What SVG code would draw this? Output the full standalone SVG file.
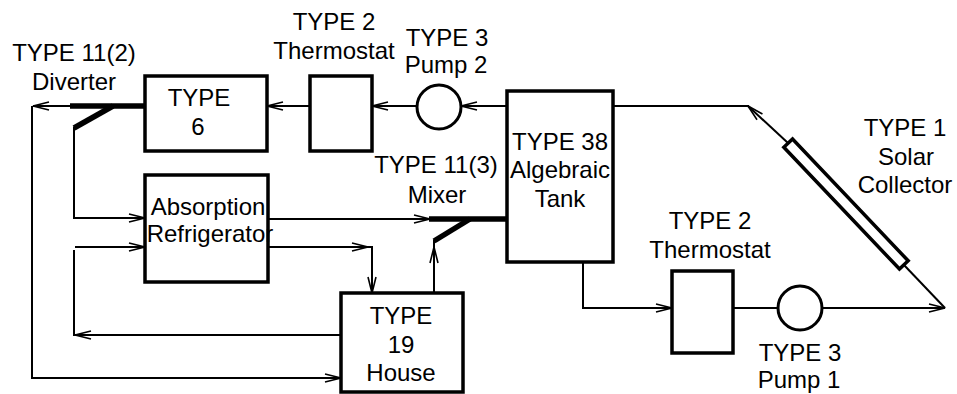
<svg xmlns="http://www.w3.org/2000/svg" width="957" height="394" viewBox="0 0 957 394">
<defs>
<style>
.box{fill:#fff;stroke:#000;stroke-width:3.5}
.ln{fill:none;stroke:#000;stroke-width:2}
.thk{fill:none;stroke:#000;stroke-width:5.5;stroke-linecap:butt}
.ar{marker-end:url(#arr)}
text{font-family:"Liberation Sans",Arial,Helvetica,sans-serif;font-size:24px;fill:#000;text-anchor:middle}
</style>
<marker id="arr" markerUnits="userSpaceOnUse" markerWidth="20" markerHeight="12" refX="17" refY="6" orient="auto">
<path d="M1,2 L17,6 L1,10" fill="none" stroke="#000" stroke-width="1.6"/>
</marker>
</defs>
<rect width="957" height="394" fill="#fff"/>

<g id="connectors">
<path class="ln ar" d="M507,106 H461"/>
<path class="ln ar" d="M417,106 H372"/>
<path class="ln ar" d="M310,106 H267"/>
<path class="thk" d="M145,106 H70"/>
<path class="ln ar" d="M71,106 H33"/>
<path class="thk" d="M113,106 L74,128"/>
<path class="ln ar" d="M32,106 V378 H341"/>
<path class="ln ar" d="M74,127 V218 H145"/>
<path class="ln ar" d="M341,335 H75"/>
<path class="ln" d="M74,336 V250"/>
<path class="ln ar" d="M75,247 H145"/>
<path class="ln ar" d="M268,219 H430"/>
<path class="thk" d="M429,219 H507"/>
<path class="thk" d="M470,219 L434,241"/>
<path class="ln ar" d="M434,293 V247"/>
<path class="ln" d="M434,248 V240"/>
<path class="ln ar" d="M268,247 H368"/>
<path class="ln ar" d="M366,247 H372 V293"/>
<path class="ln ar" d="M583,262 V308 H672"/>
<path class="ln" d="M733,308 H778"/>
<path class="ln ar" d="M822,308 H945"/>
<path class="ln" d="M945,308 L904,265"/>
<path class="ln ar" d="M788,143 L748,106"/>
<path class="ln" d="M749,106 H613"/>
</g>

<g id="diverter">
<text x="74" y="61">TYPE 11(2)</text>
<text x="74" y="90">Diverter</text>
</g>

<g id="type6">
<rect class="box" x="145" y="76" width="122" height="75"/>
<text x="199" y="106">TYPE</text>
<text x="198" y="135">6</text>
</g>

<g id="thermostat2">
<rect class="box" x="310" y="76" width="62" height="75"/>
<text x="334" y="30">TYPE 2</text>
<text x="334" y="59">Thermostat</text>
</g>

<g id="pump2">
<circle cx="439" cy="107" r="22" fill="#fff" stroke="#000" stroke-width="3"/>
<text x="447" y="46">TYPE 3</text>
<text x="446" y="73">Pump 2</text>
</g>

<g id="tank">
<rect class="box" x="507" y="91" width="106" height="171"/>
<text x="560" y="150">TYPE 38</text>
<text x="560" y="178">Algebraic</text>
<text x="560" y="207">Tank</text>
</g>

<g id="mixer">
<text x="436" y="173">TYPE 11(3)</text>
<text x="437" y="203">Mixer</text>
</g>

<g id="refrigerator">
<rect class="box" x="145" y="175" width="123" height="107"/>
<text x="208" y="215">Absorption</text>
<text x="210" y="242">Refrigerator</text>
</g>

<g id="house">
<rect class="box" x="341" y="293" width="122" height="99"/>
<text x="401" y="324">TYPE</text>
<text x="401" y="353">19</text>
<text x="401" y="381">House</text>
</g>

<g id="thermostat1">
<rect class="box" x="672" y="271" width="61" height="82"/>
<text x="710" y="229">TYPE 2</text>
<text x="710" y="258">Thermostat</text>
</g>

<g id="pump1">
<circle cx="800" cy="308" r="22" fill="#fff" stroke="#000" stroke-width="3"/>
<text x="800" y="361">TYPE 3</text>
<text x="799" y="388">Pump 1</text>
</g>

<g id="collector">
<rect class="box" x="-84" y="-6" width="168" height="12" stroke-width="3" transform="translate(846,204) rotate(46.5)"/>
<text x="905" y="136">TYPE 1</text>
<text x="906" y="165">Solar</text>
<text x="905" y="193">Collector</text>
</g>
</svg>
